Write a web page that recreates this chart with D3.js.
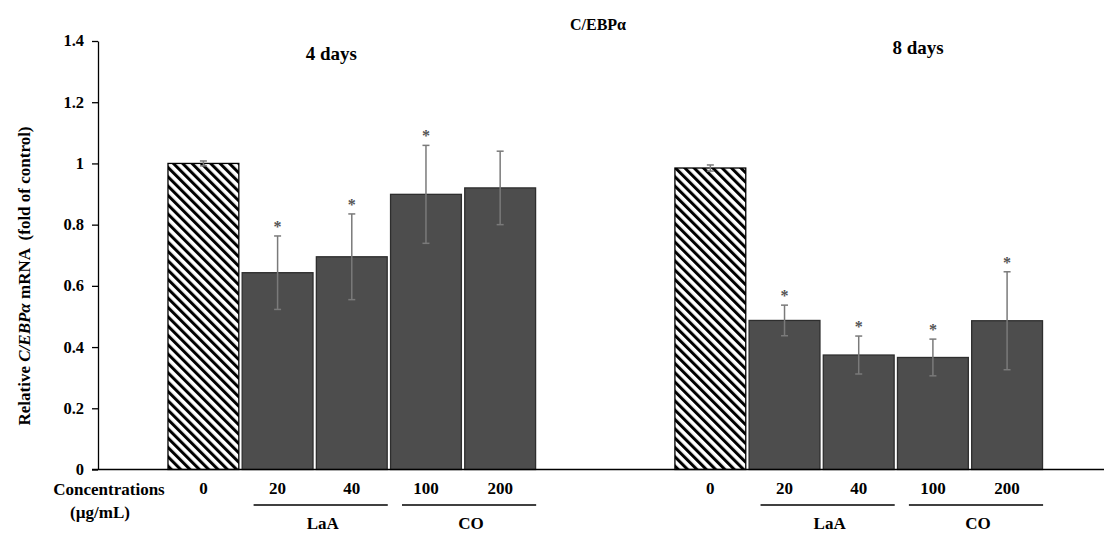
<!DOCTYPE html>
<html>
<head>
<meta charset="utf-8">
<script src="https://cdn.jsdelivr.net/npm/d3@7"></script>
<style>
  html, body { margin: 0; padding: 0; background: #fff; }
  svg { display: block; font-family: "Liberation Serif", "Times New Roman", serif; }
  svg text { font-family: "Liberation Serif", "Times New Roman", serif; }
</style>
</head>
<body>
<svg id="chart" width="1104" height="533"></svg>
<script>
// ---- data ----
const title = "C/EBPα";
const groups = ["4 days", "8 days"];
const concentrations = ["0", "20", "40", "100", "200"];
const treatments = ["LaA", "CO"];
const treatmentMembers = [["20", "40"], ["100", "200"]];
const mean4 = [1.0, 0.643, 0.695, 0.899, 0.920];
const err4  = [0.008, 0.12, 0.14, 0.16, 0.12];
const sig4  = [false, true, true, true, false];
const mean8 = [0.985, 0.487, 0.374, 0.366, 0.486];
const err8  = [0.01, 0.05, 0.062, 0.06, 0.16];
const sig8  = [false, true, true, true, true];
const yTickValues = [0, 0.2, 0.4, 0.6, 0.8, 1.0, 1.2, 1.4];
const yTickLabels = ["0", "0.2", "0.4", "0.6", "0.8", "1", "1.2", "1.4"];

const seriesData = [
  { group: groups[0], means: mean4, errs: err4, sig: sig4 },
  { group: groups[1], means: mean8, errs: err8, sig: sig8 }
];

// ---- layout ----
const svg = d3.select("#chart");
const axisX = 98;
const y = d3.scaleLinear().domain([0, 1.4]).range([469.5, 41]);

const x0 = d3.scaleBand().domain(groups).range([166.5, 1044]).paddingInner(0.269).paddingOuter(0);
const x1 = d3.scaleBand().domain(concentrations).range([0, x0.bandwidth()]).paddingInner(0.045).paddingOuter(0.02);

// hatch pattern
const defs = svg.append("defs");
const P = 6.6;
const pat = defs.append("pattern")
  .attr("id", "hatch").attr("patternUnits", "userSpaceOnUse")
  .attr("width", P).attr("height", P)
  .attr("patternTransform", "rotate(-45)");
pat.append("rect").attr("width", P).attr("height", P).attr("fill", "#fff");
pat.append("rect").attr("x", 0).attr("y", 0).attr("width", 3).attr("height", P).attr("fill", "#000");

// title
svg.append("text").attr("x", 598).attr("y", 30).attr("text-anchor", "middle")
  .attr("font-size", 16).attr("font-weight", "bold").text(title);

// y axis
const yAxis = d3.axisLeft(y).tickValues(yTickValues)
  .tickFormat((d, i) => yTickLabels[i]).tickSize(6).tickPadding(8).tickSizeOuter(0);
const gy = svg.append("g").attr("transform", `translate(${axisX},0)`).call(yAxis)
  .attr("font-family", "Liberation Serif");
gy.select(".domain").attr("stroke", "#000").attr("stroke-width", 1.3);
gy.selectAll(".tick line").attr("stroke", "#000").attr("stroke-width", 1.3);
gy.selectAll(".tick text").attr("font-size", 16.5).attr("font-weight", "bold")
  .attr("fill", "#000").attr("dy", "0.3em");

// y label
const yl = svg.append("text")
  .attr("transform", "translate(30,276) rotate(-90)")
  .attr("text-anchor", "middle").attr("font-size", 17).attr("font-weight", "bold")
  .attr("xml:space", "preserve");
yl.append("tspan").text("Relative ");
yl.append("tspan").attr("font-style", "italic").text("C/EBPα");
yl.append("tspan").text(" mRNA  (fold of control)");

// bars
seriesData.forEach(s => {
  const g = svg.append("g").attr("transform", `translate(${x0(s.group)},0)`);
  concentrations.forEach((c, i) => {
    const bx = x1(c), bw = x1.bandwidth();
    const v = s.means[i];
    g.append("rect")
      .attr("x", bx).attr("y", y(v)).attr("width", bw).attr("height", y(0) - y(v))
      .attr("fill", i === 0 ? "url(#hatch)" : "#4d4d4d")
      .attr("stroke", i === 0 ? "#000" : "#2e2e2e").attr("stroke-width", 1.3);
    // error bar
    const cx = bx + bw / 2;
    const top = y(v + s.errs[i]), bot = y(v - s.errs[i]);
    const eg = g.append("g").attr("stroke", "#7a7a7a").attr("stroke-width", 1.5);
    eg.append("line").attr("x1", cx).attr("x2", cx).attr("y1", top).attr("y2", bot);
    eg.append("line").attr("x1", cx - 3.5).attr("x2", cx + 3.5).attr("y1", top).attr("y2", top);
    eg.append("line").attr("x1", cx - 3.5).attr("x2", cx + 3.5).attr("y1", bot).attr("y2", bot);
    if (s.sig[i]) {
      g.append("text").attr("x", cx).attr("y", top - 4).attr("text-anchor", "middle")
        .attr("font-size", 16).attr("font-weight", "bold").attr("fill", "#555").text("*");
    }
  });
});

// x axis line
svg.append("line").attr("x1", 92).attr("x2", 1104).attr("y1", y(0)).attr("y2", y(0))
  .attr("stroke", "#000").attr("stroke-width", 1.5);

// group (day) labels
const dayLabelFrac = [0.445, 0.66];
const dayLabelY = [60, 54];
groups.forEach((gname, gi) => {
  svg.append("text").attr("x", x0(gname) + x0.bandwidth() * dayLabelFrac[gi]).attr("y", dayLabelY[gi])
    .attr("text-anchor", "middle").attr("font-size", 19).attr("font-weight", "bold").text(gname);
});

// x labels
svg.append("text").attr("x", 109).attr("y", 495).attr("text-anchor", "middle")
  .attr("font-size", 17).attr("font-weight", "bold").text("Concentrations");
svg.append("text").attr("x", 100).attr("y", 518).attr("text-anchor", "middle")
  .attr("font-size", 17).attr("font-weight", "bold").text("(µg/mL)");

groups.forEach(gname => {
  const gx = x0(gname);
  concentrations.forEach(c => {
    svg.append("text").attr("x", gx + x1(c) + x1.bandwidth() / 2).attr("y", 494)
      .attr("text-anchor", "middle").attr("font-size", 17).attr("font-weight", "bold").text(c);
  });
  treatments.forEach((t, ti) => {
    const m = treatmentMembers[ti];
    const xa = gx + x1(m[0]) + x1.bandwidth() / 2 - 24;
    const xb = gx + x1(m[m.length - 1]) + x1.bandwidth() / 2 + 36;
    svg.append("line").attr("x1", xa).attr("x2", xb).attr("y1", 505).attr("y2", 505)
      .attr("stroke", "#000").attr("stroke-width", 1.3);
    svg.append("text").attr("x", (xa + xb) / 2 + 2).attr("y", 529).attr("text-anchor", "middle")
      .attr("font-size", 17).attr("font-weight", "bold").text(t);
  });
});
</script>
</body>
</html>
